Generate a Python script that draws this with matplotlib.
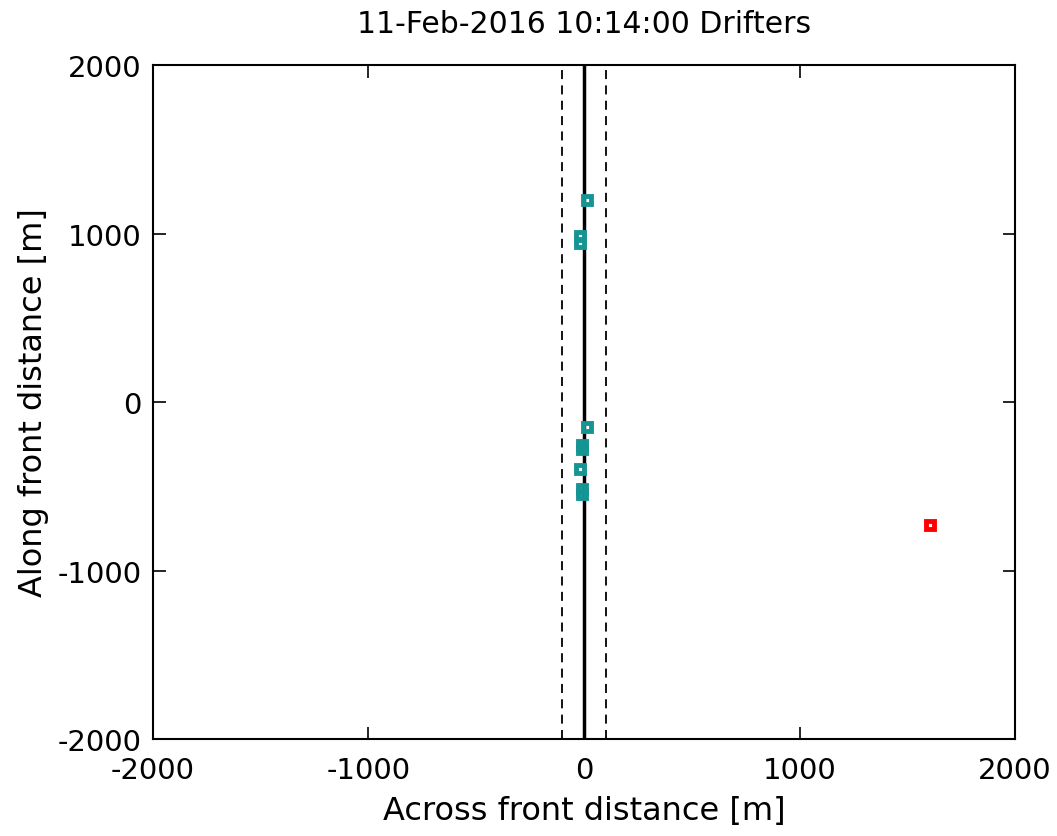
import matplotlib.pyplot as plt

plt.rcParams['font.family'] = ['DejaVu Sans']
plt.rcParams['axes.unicode_minus'] = False

# drifter positions (across, along) in m
drift_x = [15, -19, -19, 14, -9, -9, -19, -9, -9]
drift_y = [1200, 985, 943, -148, -255, -280, -398, -516, -546]
red_x = [1606]
red_y = [-730]

front_x = 0
band = 100

fig = plt.figure(figsize=(10.57, 8.37), dpi=100)
ax = fig.add_axes([0.1447, 0.1159, 0.9603 - 0.1447, 0.9211 - 0.1159])

ax.axvline(front_x, color="black", linewidth=2.5)
ax.axvline(front_x - band, color="black", linewidth=1.3, linestyle=(0, (5, 3.5)))
ax.axvline(front_x + band, color="black", linewidth=1.3, linestyle=(0, (5, 3.5)))

ax.plot(drift_x, drift_y, linestyle="none", marker="s", markersize=5.5,
        markerfacecolor="none", markeredgecolor="#159494", markeredgewidth=3.5)
ax.plot(red_x, red_y, linestyle="none", marker="s", markersize=5.5,
        markerfacecolor="none", markeredgecolor="red", markeredgewidth=3.5)

ax.set_xlim(-2000, 2000)
ax.set_ylim(-2000, 2000)
ax.set_xticks([-2000, -1000, 0, 1000, 2000])
ax.set_yticks([-2000, -1000, 0, 1000, 2000])
ax.tick_params(direction="in", top=True, right=True, length=9, width=1.2,
               labelsize=21, pad=8)
ax.tick_params(axis="x", pad=12)
for s in ax.spines.values():
    s.set_linewidth(1.5)

ax.set_xlabel("Across front distance [m]", fontsize=23, labelpad=8)
ax.set_ylabel("Along front distance [m]", fontsize=23, labelpad=6)
ax.set_title("11-Feb-2016 10:14:00 Drifters", fontsize=21.5, pad=24)

fig.savefig("out.png", dpi=100)
